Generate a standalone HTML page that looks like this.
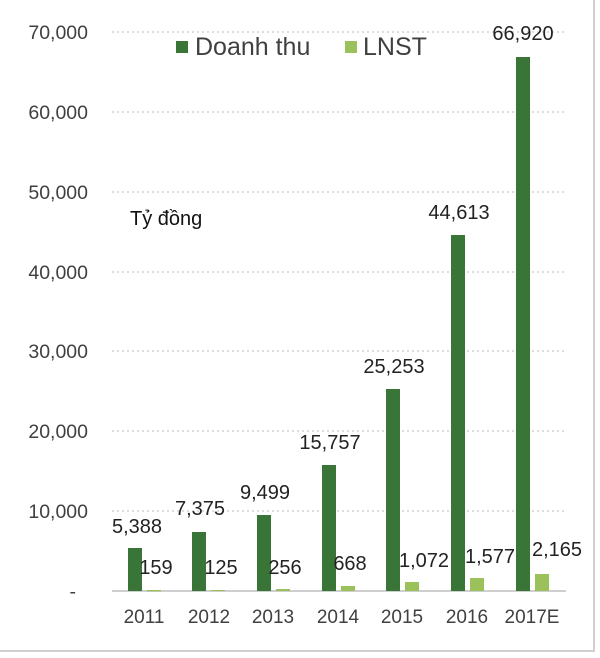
<!DOCTYPE html>
<html><head><style>
body{margin:0;background:#fff;}
svg{display:block;font-family:"Liberation Sans",Arial,sans-serif;}
</style></head><body>
<svg width="600" height="658" viewBox="0 0 600 658">
<rect x="0" y="0" width="600" height="658" fill="#fff"/>
<line x1="594" y1="0" x2="594" y2="651" stroke="#d0d0d0" stroke-width="2"/>
<line x1="0" y1="651" x2="595" y2="651" stroke="#d0d0d0" stroke-width="2"/>
<g stroke="#c8c8c8" stroke-width="1.2" stroke-dasharray="2,3">
<line x1="112" y1="32" x2="566" y2="32"/>
<line x1="112" y1="112" x2="566" y2="112"/>
<line x1="112" y1="192" x2="566" y2="192"/>
<line x1="112" y1="272" x2="566" y2="272"/>
<line x1="112" y1="351" x2="566" y2="351"/>
<line x1="112" y1="431" x2="566" y2="431"/>
<line x1="112" y1="511" x2="566" y2="511"/>
</g>
<line x1="112" y1="591" x2="566" y2="591" stroke="#cfcfcf" stroke-width="2"/>
<g font-size="19.5" fill="#404040" text-anchor="end">
<text x="88" y="39">70,000</text>
<text x="88" y="119">60,000</text>
<text x="88" y="199">50,000</text>
<text x="88" y="279">40,000</text>
<text x="88" y="358">30,000</text>
<text x="88" y="438">20,000</text>
<text x="88" y="518">10,000</text>
<text x="76" y="598">-</text>
</g>
<g fill="#3a7538">
<rect x="128" y="548" width="14" height="43"/>
<rect x="192" y="532" width="14" height="59"/>
<rect x="257" y="515" width="14" height="76"/>
<rect x="322" y="465" width="14" height="126"/>
<rect x="386" y="389" width="14" height="202"/>
<rect x="451" y="235" width="14" height="356"/>
<rect x="516" y="57" width="14" height="534"/>
</g>
<g fill="#9bc15a">
<rect x="147" y="590" width="14" height="1.3"/>
<rect x="211" y="590" width="14" height="1"/>
<rect x="276" y="589" width="14" height="2"/>
<rect x="341" y="586" width="14" height="5"/>
<rect x="405" y="582" width="14" height="9"/>
<rect x="470" y="578" width="14" height="13"/>
<rect x="535" y="574" width="14" height="17"/>
</g>
<g font-size="20" fill="#222" text-anchor="middle">
<text x="137" y="533">5,388</text>
<text x="200" y="515">7,375</text>
<text x="265" y="499">9,499</text>
<text x="330" y="449">15,757</text>
<text x="394" y="373">25,253</text>
<text x="459" y="219">44,613</text>
<text x="523" y="40">66,920</text>
<text x="156" y="574">159</text>
<text x="221" y="574">125</text>
<text x="285" y="574">256</text>
<text x="350" y="570">668</text>
<text x="424" y="567">1,072</text>
<text x="490" y="563">1,577</text>
<text x="557" y="556">2,165</text>
</g>
<g font-size="19" fill="#404040" text-anchor="middle">
<text x="144" y="623">2011</text>
<text x="209" y="623">2012</text>
<text x="273" y="623">2013</text>
<text x="338" y="623">2014</text>
<text x="402" y="623">2015</text>
<text x="467" y="623">2016</text>
<text x="532" y="623">2017E</text>
</g>
<rect x="176" y="41" width="12" height="12" fill="#3a7538"/>
<text x="195" y="55" font-size="25" fill="#404040">Doanh thu</text>
<rect x="345" y="41" width="12" height="12" fill="#9bc15a"/>
<text x="363" y="55" font-size="25" fill="#404040">LNST</text>
<text x="130" y="225" font-size="20" fill="#111">Tỷ đồng</text>
</svg>
</body></html>
